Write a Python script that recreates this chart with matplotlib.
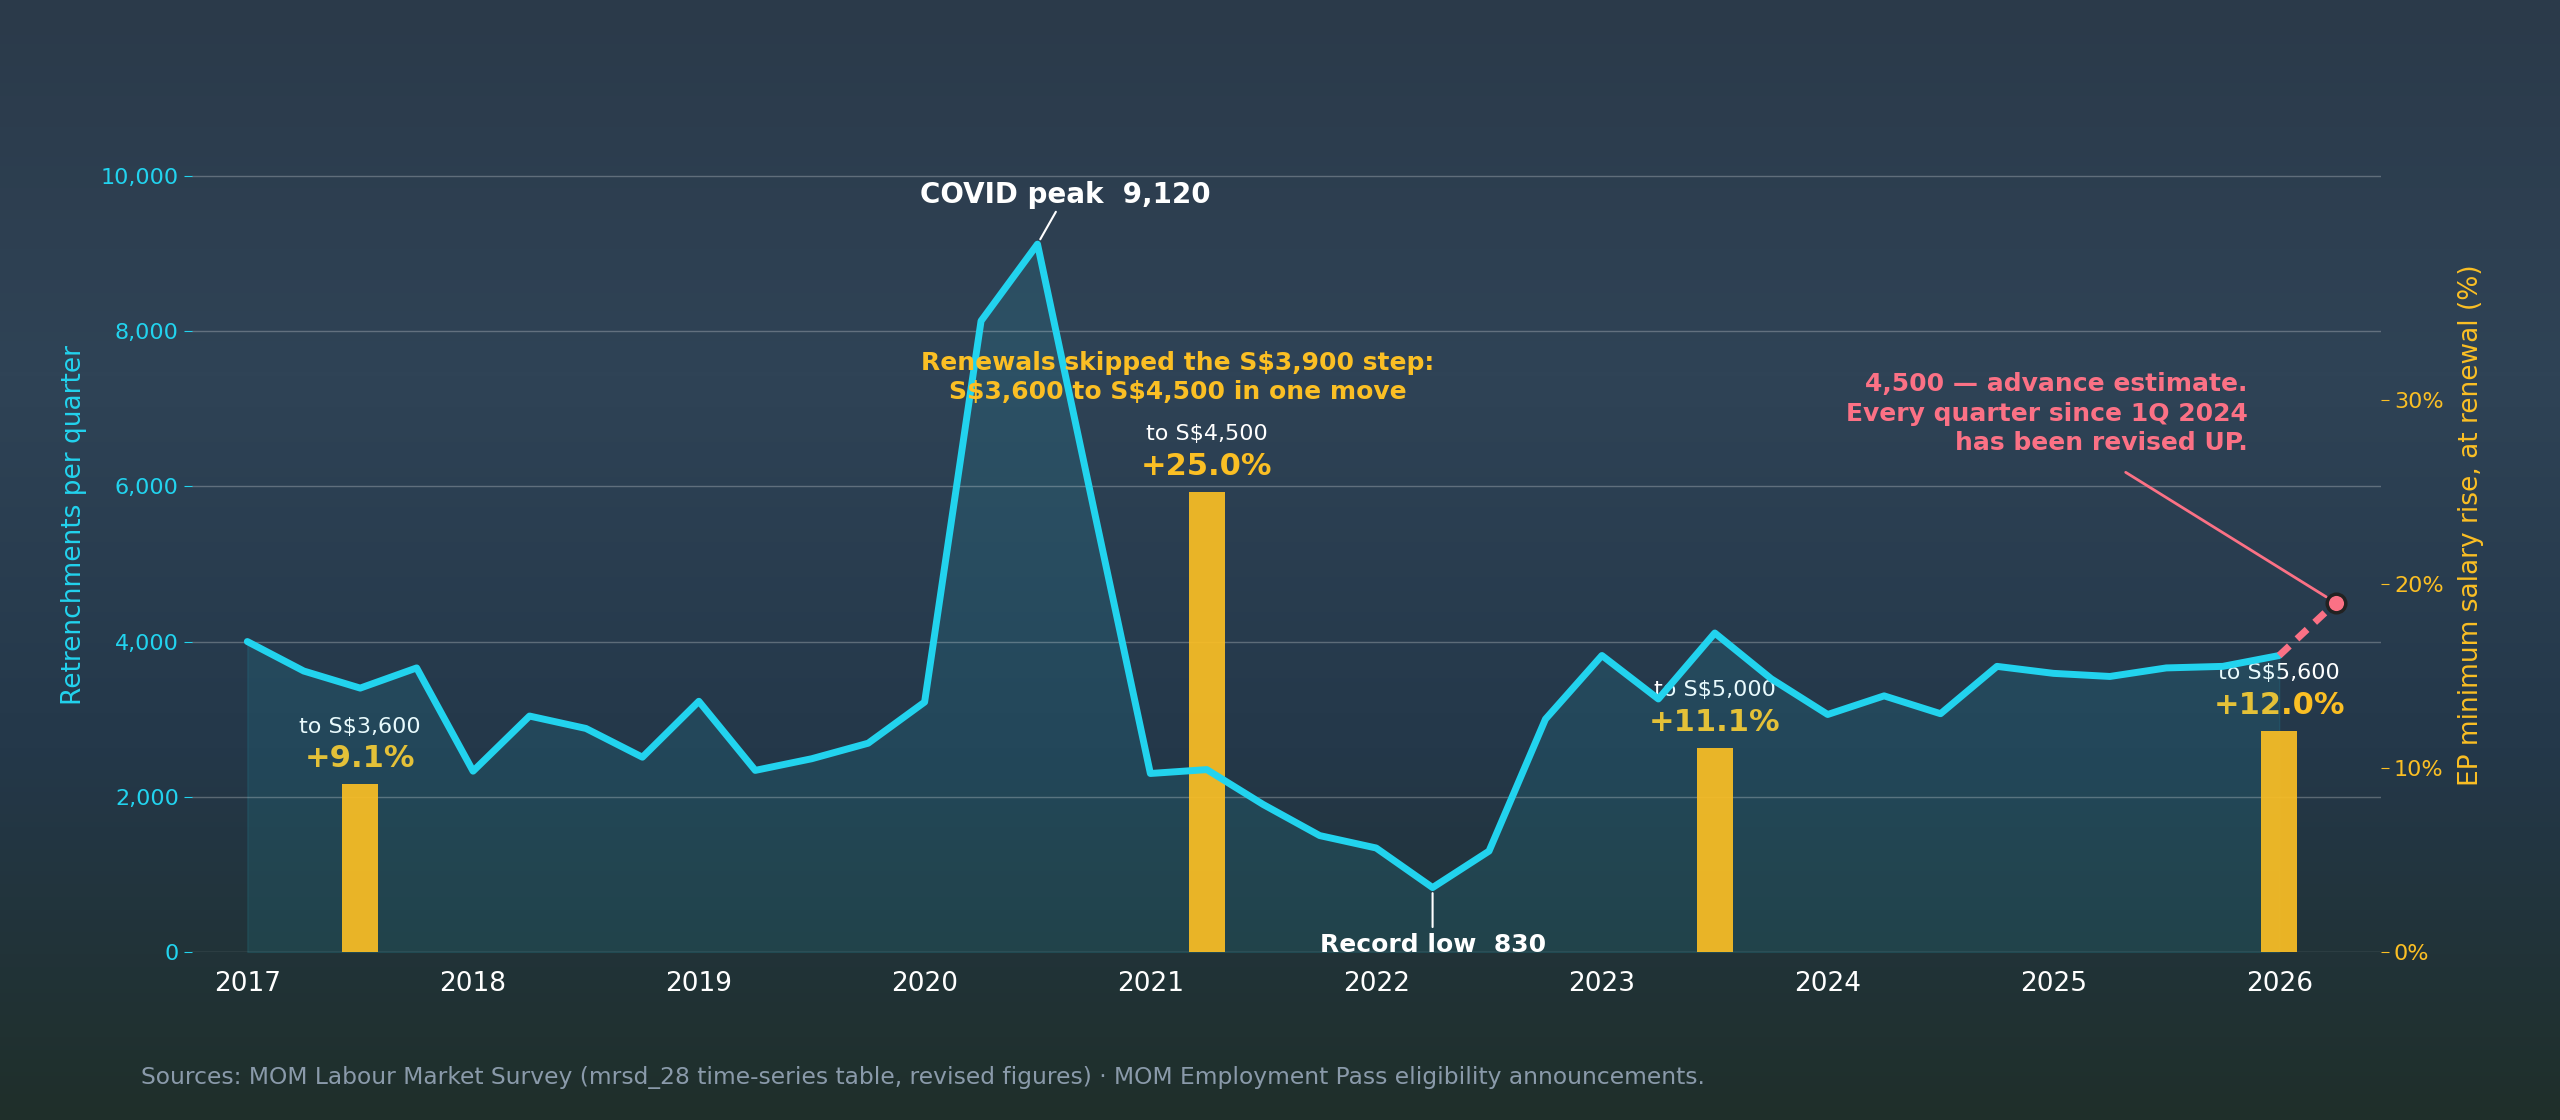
import matplotlib
matplotlib.use("Agg")
import matplotlib.pyplot as plt
import numpy as np

quarters = np.arange(2017, 2026.01, 0.25)
retrench = [4000, 3620, 3400, 3660, 2330, 3040, 2880, 2510, 3230, 2340, 2490, 2690,
            3220, 8130, 9120, 5700, 2300, 2350, 1900, 1500, 1340, 830, 1300, 3000,
            3820, 3260, 4110, 3520, 3060, 3300, 3070, 3680, 3590, 3550, 3660, 3680, 3820]
est_x = [2026.0, 2026.25]
est_y = [3820, 4500]
bar_x = [2017.5, 2021.25, 2023.5, 2026.0]
bar_pct = [9.1, 25.0, 11.1, 12.0]
bar_to = ["to S\\$3,600", "to S\\$4,500", "to S\\$5,000", "to S\\$5,600"]

CYAN = "#22d3ee"; GOLD = "#fbbf24"; PINK = "#fb7185"
W, H = 2560, 1120
fig = plt.figure(figsize=(W/100, H/100), dpi=100)
bg = fig.add_axes([0, 0, 1, 1]); bg.axis("off")
grad = np.linspace(0, 1, 256)[:, None]
cmap = matplotlib.colors.LinearSegmentedColormap.from_list("bg", ["#2b3a4a", "#2f4356", "#24384a", "#1f2f2a"])
bg.imshow(grad, aspect="auto", cmap=cmap, extent=[0, 1, 0, 1])

ax = fig.add_axes([0.075, 0.15, 0.855, 0.763])
ytop = 11010
PCT_TOP = ytop/10000*42.15
ax.set_ylim(0, ytop)
ax.set_xlim(2016.755, 2026.45)
ax2 = ax.twinx()
ax2.set_ylim(0, PCT_TOP)
ax.set_zorder(2); ax2.set_zorder(1); ax.patch.set_visible(False)

for a in (ax, ax2):
    for s in a.spines.values(): s.set_visible(False)
ax.set_yticks(range(0, 10001, 2000))
ax.set_yticklabels([f"{v:,}" for v in range(0, 10001, 2000)])
ax.grid(axis="y", color="white", alpha=0.25, lw=1)
ax.tick_params(axis="y", colors=CYAN, labelsize=16, length=6, color=CYAN)
ax.tick_params(axis="x", colors="white", labelsize=19, length=0, pad=14)
ax.set_xticks(range(2017, 2027))
ax2.set_yticks([0, 10, 20, 30])
ax2.set_yticklabels(["0%", "10%", "20%", "30%"])
ax2.tick_params(axis="y", colors=GOLD, labelsize=16, length=6, color=GOLD)
ax.set_ylabel("Retrenchments per quarter", color=CYAN, fontsize=19, labelpad=10)
ax2.set_ylabel("EP minimum salary rise, at renewal (%)", color=GOLD, fontsize=19, labelpad=10)

scale = ytop / PCT_TOP
ax.fill_between(quarters, retrench, color=CYAN, alpha=0.10, zorder=1)
ax.bar(bar_x, [p*scale for p in bar_pct], width=0.16, color=GOLD, alpha=0.92, zorder=2)
for x, p, t in zip(bar_x, bar_pct, bar_to):
    ax2.text(x, p + 2.6, t, color="white", fontsize=16, ha="center", va="bottom")
    ax2.text(x, p + 0.6, f"+{p}%", color=GOLD, fontsize=22, fontweight="bold", ha="center", va="bottom")

ax.plot(quarters, retrench, color=CYAN, lw=5, solid_capstyle="round", zorder=3)
ax.plot(est_x, est_y, color=PINK, lw=5, ls=(0, (2, 1.5)), zorder=3)
ax.scatter([est_x[1]], [est_y[1]], s=180, color=PINK, edgecolor="#222", lw=2.5, zorder=4)

ax.annotate("COVID peak  9,120", xy=(2020.5, 9120), xytext=(2019.98, 9650),
            color="white", fontsize=20, fontweight="bold", ha="left",
            arrowprops=dict(arrowstyle="-", color="white", lw=1.5, shrinkA=0, shrinkB=4))
ax.annotate("Record low  830", xy=(2022.25, 830), xytext=(2022.25, 250),
            color="white", fontsize=18, fontweight="bold", ha="center", va="top",
            arrowprops=dict(arrowstyle="-", color="white", lw=1.5, shrinkA=2, shrinkB=4))
ax.text(2021.12, 7400, "Renewals skipped the S\\$3,900 step:\nS\\$3,600 to S\\$4,500 in one move",
        color=GOLD, fontsize=18, fontweight="bold", ha="center", va="center", linespacing=1.3)
ax.text(2025.86, 6400, "4,500 — advance estimate.\nEvery quarter since 1Q 2024\nhas been revised UP.",
        color=PINK, fontsize=18, fontweight="bold", ha="right", va="bottom", linespacing=1.3)
ax.annotate("", xy=(2026.25, 4500), xytext=(2025.32, 6180),
            arrowprops=dict(arrowstyle="-", color=PINK, lw=2, shrinkA=0, shrinkB=8))

fig.text(0.055, 0.032, "Sources: MOM Labour Market Survey (mrsd_28 time-series table, revised figures) · MOM Employment Pass eligibility announcements.",
         color="#8a9aaa", fontsize=16.8)
fig.savefig("out.png", dpi=100)
